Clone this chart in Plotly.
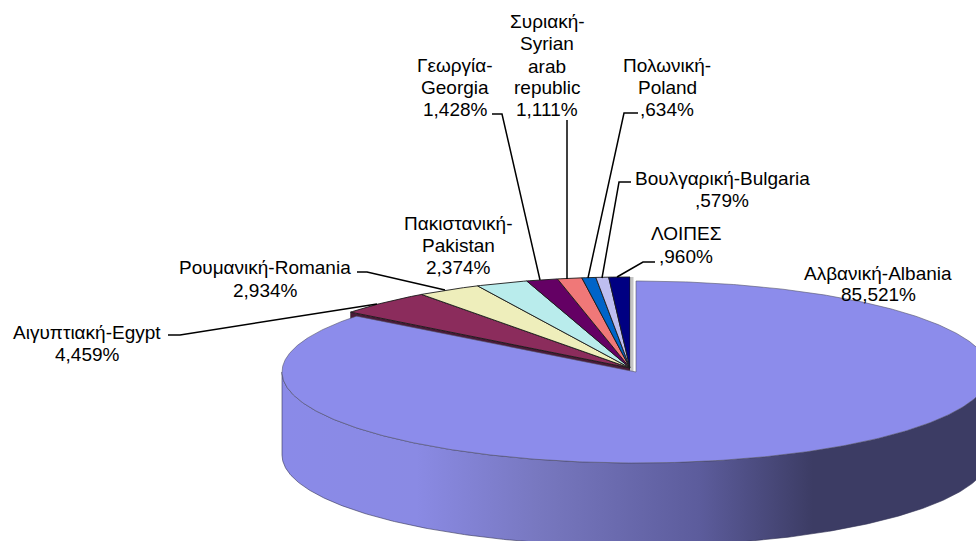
import math
import plotly.graph_objects as go

categories = ["Αλβανική-Albania", "Αιγυπτιακή-Egypt", "Ρουμανική-Romania", "Πακιστανική-Pakistan",
              "Γεωργία-Georgia", "Συριακή-Syrian arab republic", "Πολωνική-Poland",
              "Βουλγαρική-Bulgaria", "ΛΟΙΠΕΣ"]
values = [85.521, 4.459, 2.934, 2.374, 1.428, 1.111, 0.634, 0.579, 0.960]
colors = ["#8C8CEB", "#8B2C5C", "#EEEEBB", "#B9ECEC", "#640064", "#F07878", "#0064C8", "#BEBEF0", "#000082"]
label_lines = [["Αλβανική-Albania"], ["Αιγυπτιακή-Egypt"], ["Ρουμανική-Romania"], ["Πακιστανική-", "Pakistan"],
               ["Γεωργία-", "Georgia"], ["Συριακή-", "Syrian", "arab", "republic"], ["Πολωνική-", "Poland"],
               ["Βουλγαρική-Bulgaria"], ["ΛΟΙΠΕΣ"]]

# layout: coordinates are pixels of the 976x541 window
W, H = 976, 541
RX, RY, DEPTH = 354, 91, 83
MAIN_C = (636, 372)    # exploded slice centre
REST_C = (630, 368)    # remaining slices centre
label_pos = [(878, [273, 294]), (87, [332, 354]), (265, [267, 290]), (458, [223, 245, 267]),
             (455, [65, 87, 109]), (547, [21, 43, 66, 87, 109]), (667, [65, 87, 109]),
             (722, [178, 200]), (686, [233, 256])]
leaders = [None,
           [(168, 335), (180, 335), (377, 304)],
           [(357, 272), (367, 272), (445, 290)],
           None,
           [(492, 114), (502, 114), (540, 280)],
           [(567, 120), (567, 279)],
           [(638, 113), (624, 113), (588, 278)],
           [(631, 182), (619, 182), (602, 278)],
           [(655, 262), (643, 262), (617, 277)]]
wall_scale = [[0, "#8A8AE8"], [0.19, "#8A8AE4"], [0.36, "#7878C0"], [0.59, "#5C5C9C"], [0.75, "#3C3C64"], [1, "#3C3C64"]]


def pt(c, deg, dy=0):
    t = math.radians(deg)
    return c[0] + RX * math.sin(t), c[1] - RY * math.cos(t) + dy


def arc(c, a, b, dy=0):
    n = max(2, int(abs(b - a) * 2))
    return [pt(c, a + (b - a) * i / n, dy) for i in range(n + 1)]


def poly(points, color, line="#222222", lw=0.8, **kw):
    xs = [p[0] for p in points] + [points[0][0]]
    ys = [p[1] for p in points] + [points[0][1]]
    return go.Scatter(x=xs, y=ys, mode="lines", fill="toself", fillcolor=color,
                      line=dict(color=line, width=lw), hoverinfo="skip", showlegend=False, **kw)


fig = go.Figure()
total = sum(values)
edges = [0.0]
for v in values:
    edges.append(edges[-1] + v / total * 360)

# cut face of the first un-exploded slice, seen past the exploded one
a = edges[1]
p = pt(REST_C, a)
fig.add_trace(poly([p, REST_C, (REST_C[0], REST_C[1] + DEPTH), (p[0], p[1] + DEPTH)], "#4A1A38", lw=0.5))

# un-exploded slices
for i in range(1, len(values)):
    fig.add_trace(poly([REST_C] + arc(REST_C, edges[i], edges[i + 1]), colors[i], line="#1a1a1a", lw=0.9))

# pale cut face beside the last slice
fig.add_trace(go.Scatter(x=[REST_C[0] + 2, REST_C[0] + 2], y=[REST_C[1] - RY, MAIN_C[1]], mode="lines",
                         line=dict(color="#C4C4C4", width=3), hoverinfo="skip", showlegend=False))

# exploded slice: wall then top
wall = arc(MAIN_C, 90, 270) + arc(MAIN_C, 270, 90, DEPTH)
fig.add_trace(poly(wall, "#8A8AE8", line="#333355", lw=0.6,
                   fillgradient=dict(type="horizontal", colorscale=wall_scale)))
fig.add_trace(poly([MAIN_C] + arc(MAIN_C, edges[0], edges[1]), colors[0], line="#55556A", lw=0.6))

# leaders
for seg in leaders:
    if seg:
        fig.add_trace(go.Scatter(x=[s[0] for s in seg], y=[s[1] for s in seg], mode="lines",
                                 line=dict(color="#000000", width=1.5), hoverinfo="skip", showlegend=False))


def pct(v):
    s = f"{v:.3f}".replace(".", ",")
    return (s[1:] if s.startswith("0") else s) + "%"


ann = []
for lines, v, (x, ys) in zip(label_lines, values, label_pos):
    for text, y in zip(lines + [pct(v)], ys):
        ann.append(dict(x=x, y=y, xref="x", yref="y", text=text, showarrow=False, xanchor="center",
                        yanchor="middle", font=dict(family="Liberation Sans", size=19, color="#000000")))

fig.update_layout(width=W, height=H, margin=dict(l=0, r=0, t=0, b=0), autosize=False,
                  paper_bgcolor="#FFFFFF", plot_bgcolor="#FFFFFF", showlegend=False, annotations=ann,
                  xaxis=dict(range=[0, W], visible=False, fixedrange=True),
                  yaxis=dict(range=[H, 0], visible=False, fixedrange=True))
# the page's default 8px body margin would push the chart off the window
fig.write_html("out.html", config={"displayModeBar": False},
               post_script="document.body.style.margin='0';document.documentElement.style.overflow='hidden';")
